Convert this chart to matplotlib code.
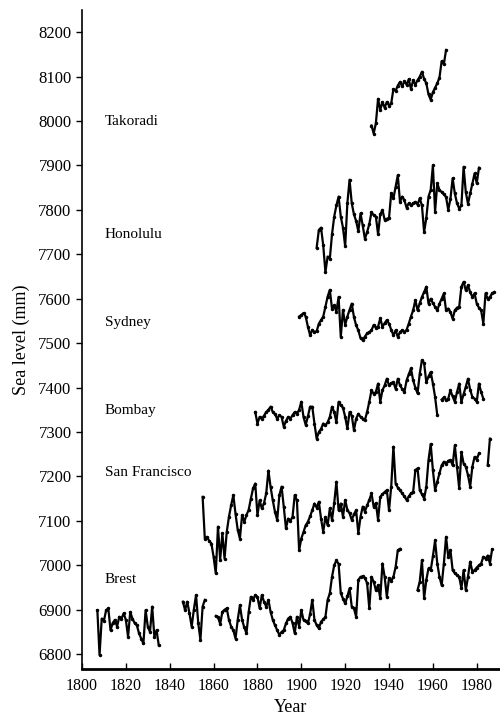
import numpy as np
import matplotlib.pyplot as plt

nan = np.nan

stations = ["Takoradi", "Honolulu", "Sydney", "Bombay", "San Francisco", "Brest"]
label_levels = [8000, 7745, 7547, 7349, 7210, 6969]

takoradi_start = 1932
takoradi = [7990, 7972, 7995, 8050, 8025, 8043, 8030, 8043, 8035, 8040,
            8072, 8068, 8080, 8088, 8078, 8090, 8082, 8094, 8072, 8092,
            8082, 8092, 8100, 8111, 8095, 8085, 8060, 8048, 8065, 8075,
            8085, 8098, 8135, 8128, 8160]

honolulu_start = 1907
honolulu = [7715, 7755, 7760, 7720, 7660, 7695, 7690, 7745, 7785, 7810,
            7830, 7785, 7760, 7718, 7815, 7868, 7815, 7790, 7775, 7752,
            7792, 7765, 7735, 7750, 7768, 7795, 7788, 7785, 7745, 7790,
            7800, 7778, 7780, 7782, 7838, 7826, 7852, 7878, 7818, 7830,
            7822, 7805, 7815, 7810, 7815, 7818, 7812, 7826, 7810, 7750,
            7782, 7830, 7845, 7900, 7796, 7860, 7845, 7840, 7835, 7829,
            7800, 7825, 7871, 7837, 7815, 7803, 7810, 7897, 7840, 7814,
            7837, 7859, 7882, 7860, 7895]

sydney_start = 1899
sydney = [7560, 7563, 7568, 7560, 7537, 7518, 7530, 7525, 7527, 7544,
          7552, 7560, 7582, 7605, 7620, 7578, 7585, 7571, 7604, 7514,
          7575, 7541, 7560, 7575, 7589, 7559, 7540, 7529, 7511, 7507,
          7515, 7522, 7525, 7529, 7541, 7535, 7537, 7556, 7537, 7545,
          7552, 7544, 7530, 7518, 7529, 7514, 7525, 7529, 7525, 7530,
          7544, 7560, 7574, 7597, 7574, 7590, 7604, 7615, 7627, 7589,
          7600, 7590, 7582, 7574, 7589, 7600, 7612, 7574, 7578, 7570,
          7555, 7574, 7580, 7582, 7627, 7638, 7619, 7630, 7615, 7604,
          7612, 7589, 7580, 7574, 7544, 7612, 7600, 7604, 7612, 7615]

bombay_start = 1879
bombay = [7345, 7319, 7334, 7330, 7337, 7345, 7350, 7357, 7345, 7340,
          7330, 7338, 7334, 7312, 7325, 7334, 7330, 7338, 7345, 7341,
          7350, 7368, 7334, 7316, 7335, 7357, 7357, 7319, 7285, 7300,
          7307, 7319, 7315, 7322, 7334, 7357, 7345, 7322, 7368, 7360,
          7355, 7334, 7308, 7345, 7337, 7304, 7330, 7341, 7334, 7330,
          7327, 7345, 7368, 7394, 7386, 7390, 7409, 7368, 7394, 7405,
          7420, 7405, 7410, 7412, 7397, 7420, 7405, 7397, 7390, 7416,
          7430, 7443, 7416, 7400, 7387, 7431, 7462, 7455, 7412, 7425,
          7435, 7409, 7379, 7338, nan, 7373, 7378, 7372, 7375, 7394,
          7380, 7368, 7390, 7409, 7368, 7385, 7402, 7420, 7395, 7379,
          7375, 7368, 7409, 7390, 7375]

sanfran_start = 1855
sanfran = [7154, 7060, 7064, 7055, 7049, 7019, 6982, 7087, 7012, 7072,
           7015, 7075, 7109, 7135, 7158, 7116, 7080, 7060, 7113, 7098,
           7113, 7125, 7150, 7173, 7184, 7113, 7146, 7128, 7140, 7162,
           7213, 7176, 7146, 7120, 7102, 7158, 7177, 7132, 7083, 7105,
           7100, 7109, 7158, 7146, 7034, 7060, 7075, 7090, 7098, 7110,
           7124, 7139, 7130, 7143, 7105, 7075, 7109, 7090, 7128, 7102,
           7140, 7188, 7124, 7139, 7109, 7147, 7125, 7117, 7102, 7115,
           7124, 7072, 7109, 7132, 7121, 7135, 7147, 7162, 7132, 7140,
           7102, 7154, 7160, 7165, 7169, 7124, 7177, 7267, 7184, 7175,
           7169, 7162, 7155, 7147, 7155, 7162, 7165, 7214, 7218, 7169,
           7160, 7150, 7177, 7237, 7273, 7214, 7169, 7188, 7207, 7225,
           7233, 7229, 7235, 7237, 7225, 7270, 7222, 7173, 7255, 7229,
           7222, 7203, 7177, 7222, 7244, 7238, 7252, nan, nan, nan,
           7225, 7285]

brest_start = 1807
brest = [6899, 6798, 6880, 6875, 6899, 6903, 6854, 6870, 6877, 6862,
         6884, 6880, 6892, 6877, 6839, 6895, 6880, 6870, 6865, 6847,
         6835, 6824, 6899, 6862, 6850, 6907, 6839, 6854, 6820,
         nan, nan, nan, nan, nan, nan, nan, nan, nan, nan,
         6918, 6899, 6918, 6892, 6862, 6900, 6933, 6870, 6832, 6907,
         6922, nan, nan, nan, nan,
         6886, 6883, 6868, 6895, 6900, 6903, 6877, 6862, 6854, 6835,
         6877, 6910, 6877, 6860, 6847, 6895, 6929, 6922, 6933, 6929,
         6903, 6933, 6918, 6907, 6922, 6895, 6877, 6865, 6854, 6843,
         6850, 6854, 6869, 6880, 6884, 6870, 6847, 6884, 6862, 6899,
         6877, 6875, 6869, 6890, 6922, 6877, 6865, 6858, 6873, 6878,
         6884, 6922, 6937, 6974, 7000, 7011, 7003, 6937, 6925, 6914,
         6930, 6948, 6907, 6903, 6884, 6967, 6974, 6975, 6971, 6960,
         6903, 6974, 6963, 6944, 6955, 6926, 7004, 6974, 6929, 6971,
         6965, 6974, 6996, 7034, 7037,
         nan, nan, nan, nan, nan, nan, nan,
         6944, 6963, 7011, 6926, 6967, 6993, 6989, 7020, 7056, 7004,
         6974, 6955, 7004, 7064, 7019, 7034, 6989, 6982, 6978, 6974,
         6948, 6989, 6944, 6974, 7008, 6986, 6989, 6995, 7000, 7004,
         7019, 7015, 7022, 7004, 7036]

series = [(takoradi_start, takoradi), (honolulu_start, honolulu),
          (sydney_start, sydney), (bombay_start, bombay),
          (sanfran_start, sanfran), (brest_start, brest)]

plt.rcParams['font.family'] = ['Liberation Serif', 'DejaVu Serif']

fig = plt.figure(figsize=(5, 7.15), dpi=100)
ax = fig.add_axes([0.164, 0.064, 0.836, 0.922])

for start, vals in series:
    yrs = np.arange(start, start + len(vals))
    ax.plot(yrs, vals, color='black', lw=1.6, marker='.', ms=3)

for name, lev in zip(stations, label_levels):
    ax.text(1810.5, lev, name, fontsize=11, va='center', ha='left')

ax.set_xlim(1800, 1990.6)
ax.set_ylim(6766, 8250)
ax.set_xticks(np.arange(1800, 1981, 20))
ax.set_yticks(np.arange(6800, 8201, 100))
ax.tick_params(axis='y', direction='out', length=4, width=1, labelsize=12)
ax.tick_params(axis='x', direction='in', length=4, width=1, labelsize=11.5, pad=6)
ax.spines['top'].set_visible(False)
ax.spines['right'].set_visible(False)
ax.spines['bottom'].set_linewidth(2)
ax.spines['left'].set_linewidth(1.2)
ax.set_xlabel('Year', fontsize=13)
ax.set_ylabel('Sea level (mm)', fontsize=13, labelpad=6)

plt.savefig('out.png', dpi=100)
